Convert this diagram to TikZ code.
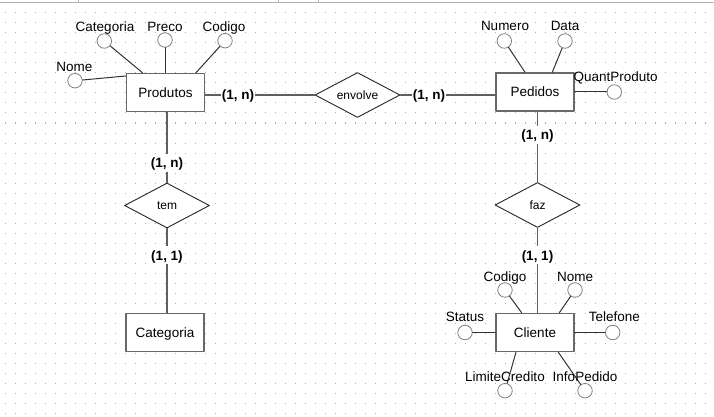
\documentclass[tikz,border=0pt]{standalone}
\usepackage{fontspec}
\setmainfont{Liberation Sans}
\usetikzlibrary{shapes.geometric}
\usetikzlibrary{calc}

\definecolor{boxgray}{RGB}{105,105,105}
\definecolor{linegray}{RGB}{95,95,95}
\definecolor{dotgray}{RGB}{175,175,175}

\tikzset{
  entidade/.style={draw=boxgray, line width=1.5pt, fill=white, minimum width=78pt, minimum height=38pt, inner sep=0pt, text height=10pt, text depth=0pt, font=\fontsize{13.5}{16}\selectfont},
  relacao/.style={diamond, draw=black!85, line width=0.9pt, fill=white, aspect=1.9, inner sep=0pt, minimum width=85pt, minimum height=45pt, font=\fontsize{12}{14}\selectfont},
  atrib/.style={circle, draw=gray, line width=0.8pt, fill=white, minimum size=14.5pt, inner sep=0pt},
  rotulo/.style={inner sep=0pt, text height=10pt, text depth=0pt, font=\fontsize{13.5}{16}\selectfont},
  card/.style={fill=white, text=black, inner xsep=1pt, inner ysep=4pt, text height=10pt, text depth=0pt, font=\fontsize{13.5}{16}\selectfont\bfseries},
  liga/.style={line width=1.4pt, color=linegray},
  ligattr/.style={line width=1pt, color=black!80},
}

\begin{document}
\begin{tikzpicture}[line cap=round,line join=round,x=1pt,y=-1pt]
        \useasboundingbox (0,0) rectangle (714,417);
        % grade de pontos
        \foreach \i in {0,...,70}
          \foreach \j in {0,...,41}
            \fill [dotgray] (4.5+10*\i,2.5+10*\j) rectangle ++(1,1);
        \draw [line width=0.8pt,color=black!30] (0,2.5)-- (714,2.5);
        \foreach \t in {78,278,318}
          \draw [line width=0.8pt,color=black!30] (\t,0)-- (\t,2.5);
        % entidades
        \node [entidade] (prod) at (165.5,92.5) {Produtos};
        \node [entidade] (ped) at (535,92) {Pedidos};
        \node [entidade] (cli) at (535,332.5) {Cliente};
        \node [entidade] (cat) at (165,332.7) {Categoria};
        % relacionamentos
        \node [relacao] (env) at (357.5,95) {envolve};
        \node [relacao] (tem) at (167,205.5) {tem};
        \node [relacao] (faz) at (537.5,205) {faz};
        % ligacoes
        \draw [liga] (prod.east |- env) -- node [card,pos=0.3] {(1, n)} (env.west);
        \draw [liga] (env.east) -- node [card,pos=0.3] {(1, n)} (ped.west |- env);
        \draw [liga] (tem |- prod.south) -- node [card,pos=0.72] {(1, n)} (tem.north);
        \draw [liga] (tem.south) -- node [card,pos=0.32] {(1, 1)} (tem |- cat.north);
        \draw [liga] (faz |- ped.south) -- node [card,pos=0.33] {(1, n)} (faz.north);
        \draw [liga] (faz.south) -- node [card,pos=0.32] {(1, 1)} (faz |- cli.north);
        % atributos de Produtos
        \node [atrib] (pCat) at (104.3,41) {};
        \node [rotulo] (tpCat) at (105,26.7) {Categoria};
        \node [atrib] (pPre) at (165,40) {};
        \node [rotulo] (tpPre) at (165,26.7) {Preco};
        \node [atrib] (pCod) at (225,40.7) {};
        \node [rotulo] (tpCod) at (224,26.7) {Codigo};
        \node [atrib] (pNom) at (75,80.7) {};
        \node [rotulo] (tpNom) at (74.3,66.7) {Nome};
        \draw [ligattr] (pCat) -- ($(prod.north)+(-23,0)$);
        \draw [ligattr] (pPre) -- (pPre |- prod.north);
        \draw [ligattr] (pCod) -- ($(prod.north)+(30.5,0)$);
        \draw [ligattr] (pNom) -- ($(prod.west)+(0,-16.5)$);
        % atributos de Pedidos
        \node [atrib] (dNum) at (504.3,41) {};
        \node [rotulo] (tdNum) at (505,26) {Numero};
        \node [atrib] (dDat) at (565,41) {};
        \node [rotulo] (tdDat) at (565,26) {Data};
        \node [atrib] (dQua) at (614.3,92) {};
        \node [rotulo] (tdQua) at (615.7,76.7) {QuantProduto};
        \draw [ligattr] (dNum) -- ($(ped.north)+(-10,0)$);
        \draw [ligattr] (dDat) -- ($(ped.north)+(17.3,0)$);
        \draw [ligattr] (dQua) -- (ped.east);
        % atributos de Cliente
        \node [atrib] (cCod) at (505,290) {};
        \node [rotulo] (tcCod) at (505,276) {Codigo};
        \node [atrib] (cNom) at (575,290) {};
        \node [rotulo] (tcNom) at (575,276) {Nome};
        \node [atrib] (cSta) at (465,332.5) {};
        \node [rotulo] (tcSta) at (465,316) {Status};
        \node [atrib] (cTel) at (612.7,332.5) {};
        \node [rotulo] (tcTel) at (614.3,316) {Telefone};
        \node [atrib] (cLim) at (505,390.7) {};
        \node [atrib] (cInf) at (585,390.7) {};
        \draw [ligattr] (cCod) -- ($(cli.north)+(-13.3,0)$);
        \draw [ligattr] (cNom) -- ($(cli.north)+(24.3,0)$);
        \draw [ligattr] (cSta) -- (cli.west);
        \draw [ligattr] (cTel) -- (cli.east);
        \draw [ligattr] (cLim) -- ($(cli.south)+(-19,0)$);
        \draw [ligattr] (cInf) -- ($(cli.south)+(23.3,0)$);
        \node [rotulo] (tcLim) at (505,376) {LimiteCredito};
        \node [rotulo] (tcInf) at (585,376) {InfoPedido};
\end{tikzpicture}
\end{document}
